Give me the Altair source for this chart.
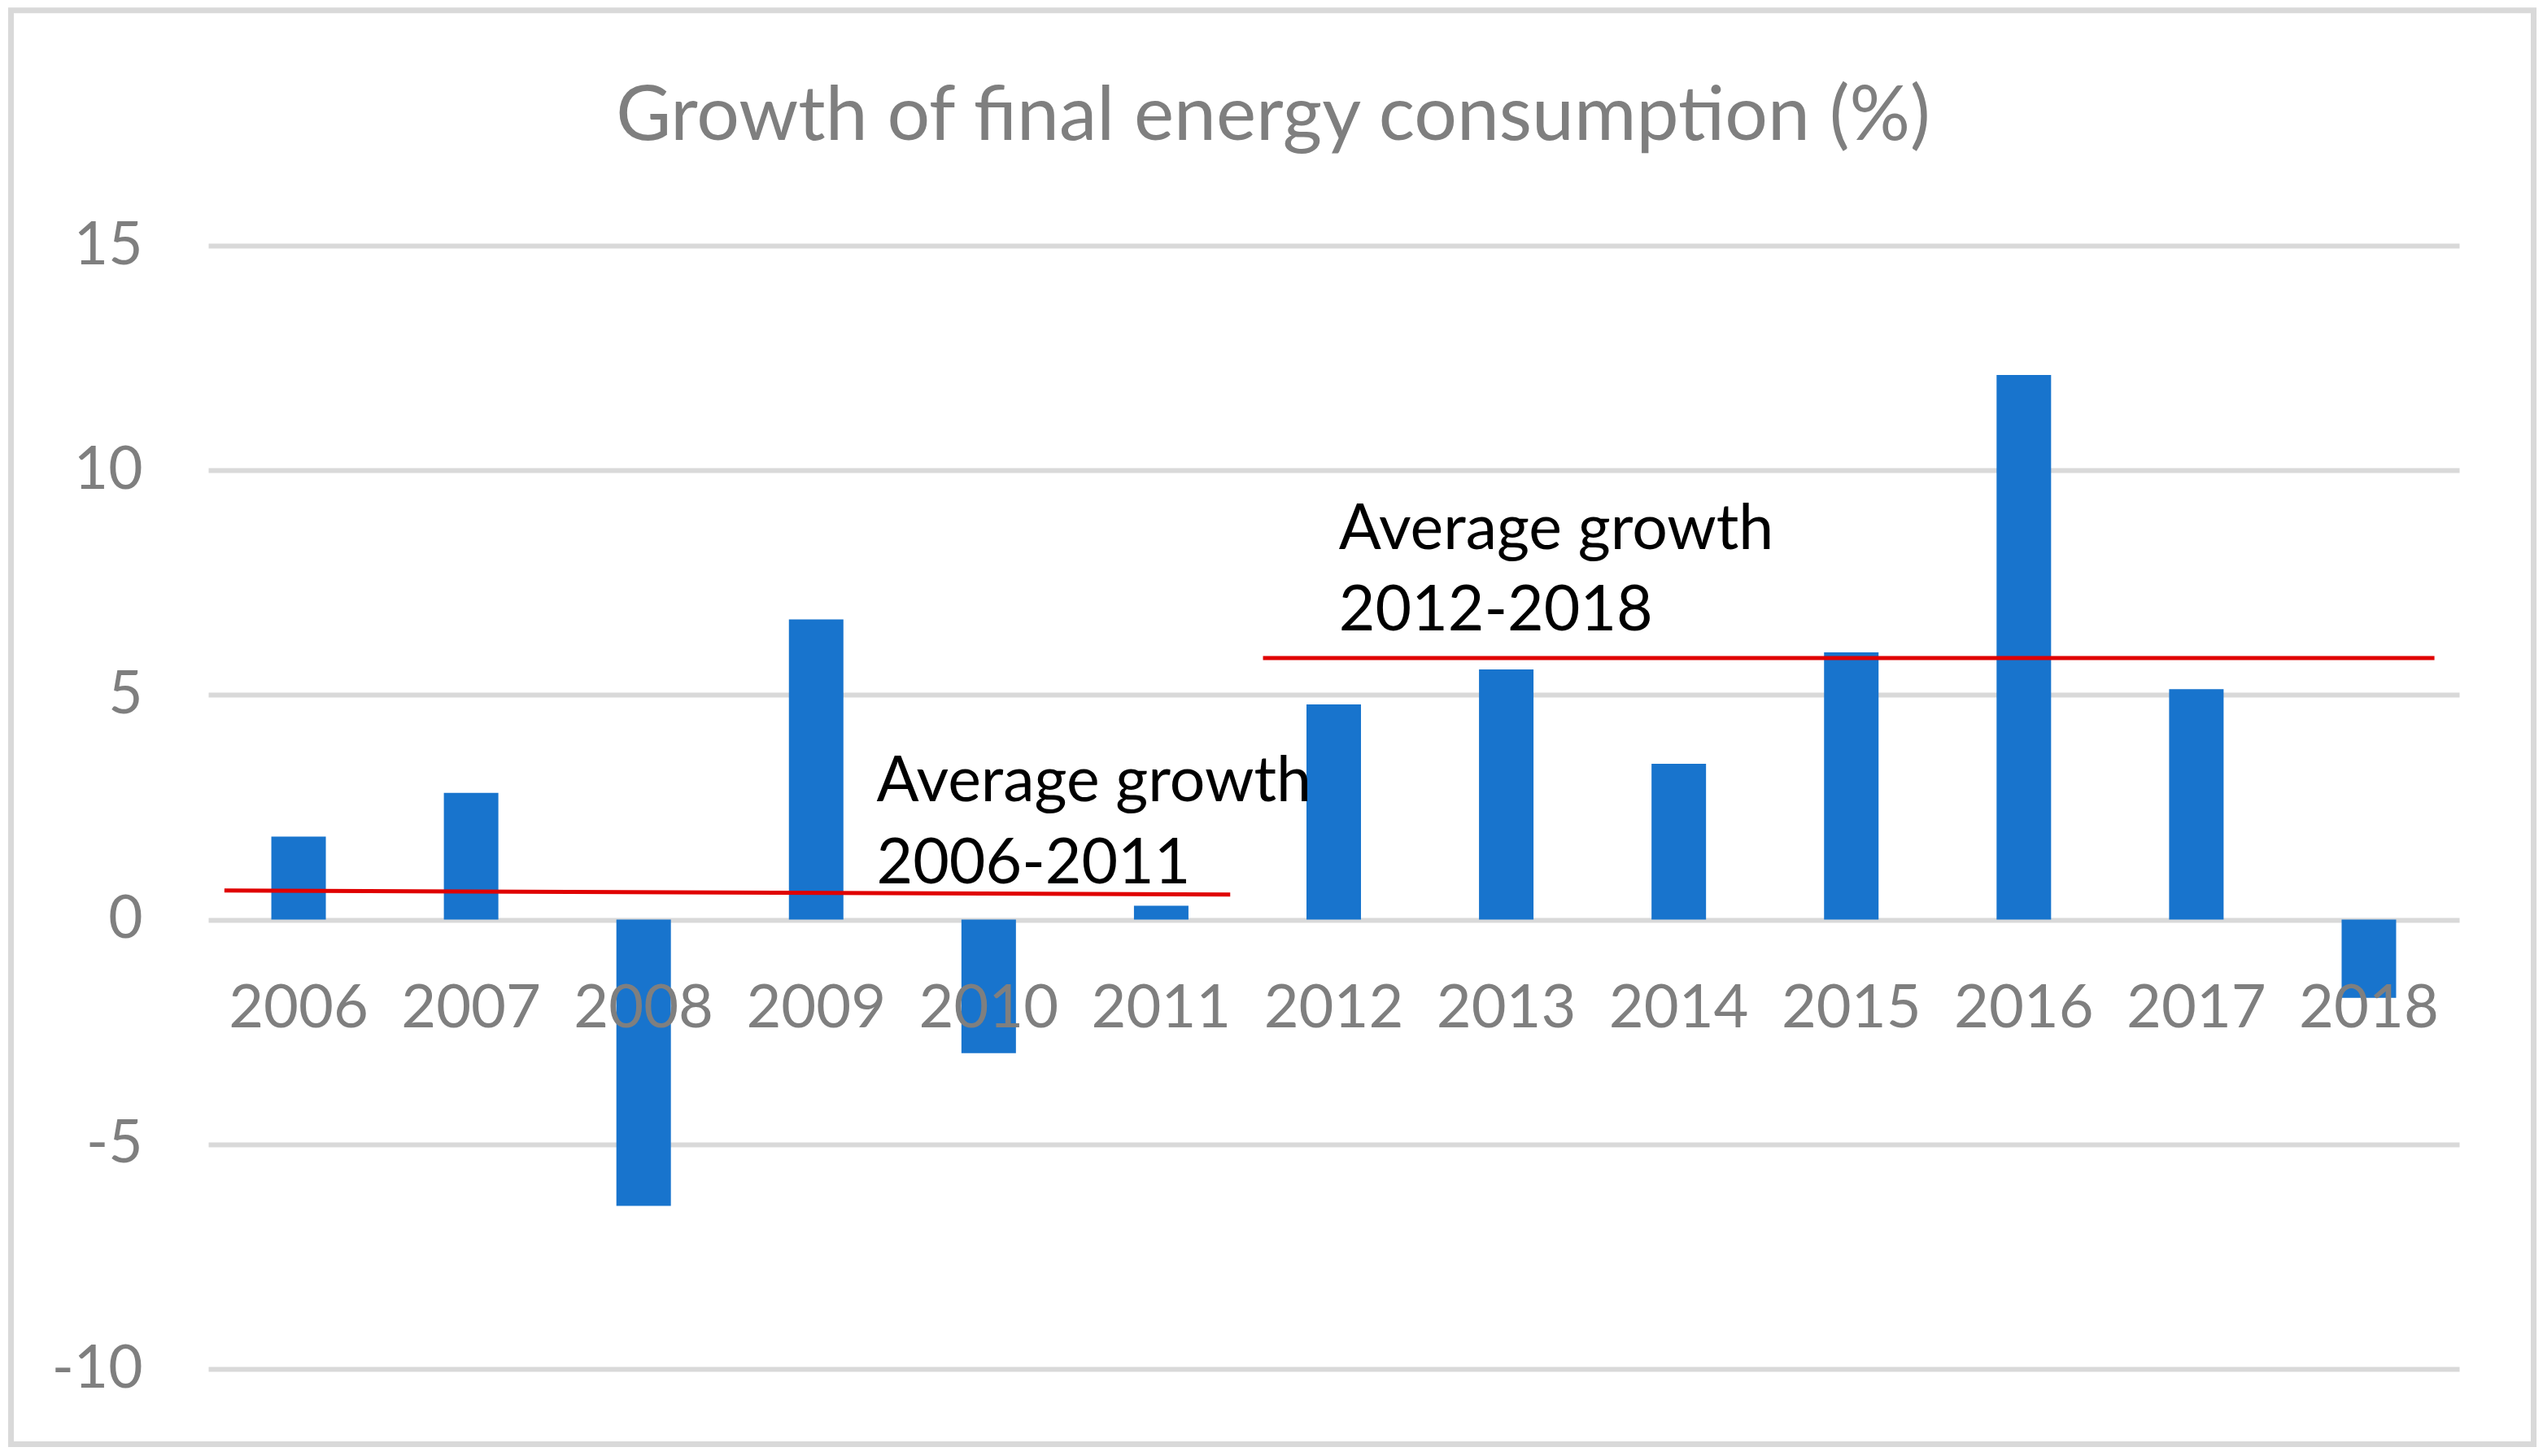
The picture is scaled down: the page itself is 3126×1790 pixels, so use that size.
import altair as alt
import pandas as pd

# ---- data ----
years = [2006, 2007, 2008, 2009, 2010, 2011, 2012, 2013, 2014, 2015, 2016, 2017, 2018]
growth = [1.85, 2.82, -6.37, 6.68, -2.97, 0.31, 4.79, 5.57, 3.47, 5.95, 12.12, 5.13, -1.74]
y_ticks = [-10, -5, 0, 5, 10, 15]

avg_period = ["2006-2011", "2006-2011", "2012-2018", "2012-2018"]
avg_x = [2005.57, 2011.40, 2011.59, 2018.38]
avg_y = [0.65, 0.56, 5.82, 5.82]

note_text = ["Average growth", "2006-2011", "Average growth", "2012-2018"]
note_x = [2009.35, 2009.35, 2012.03, 2012.03]
note_y = [2.64, 0.81, 8.25, 6.44]

title_text = "Growth of final energy consumption (%)"

bars_df = pd.DataFrame({"year": years, "growth": growth})
avg_df = pd.DataFrame({"period": avg_period, "x": avg_x, "y": avg_y})
note_df = pd.DataFrame({"text": note_text, "x": note_x, "y": note_y})

FONT = "Lato"
GREY = "#7F7F7F"
W, H = 2767, 1381

xscale = alt.Scale(domain=[2005.5, 2018.5], nice=False, zero=False)
yscale = alt.Scale(domain=[-10, 15], nice=False)

base = alt.Chart(bars_df)

bars = base.mark_bar(size=67, color="#1874CD").encode(
    x=alt.X("year:Q", scale=xscale, axis=None),
    y=alt.Y(
        "growth:Q",
        scale=yscale,
        axis=alt.Axis(
            values=y_ticks,
            title=None,
            grid=True,
            gridColor="#D9D9D9",
            gridWidth=6,
            domain=False,
            ticks=False,
            labelFont=FONT,
            labelFontSize=73,
            labelColor=GREY,
            labelPadding=81,
            labelExpr="'' + datum.value",
        ),
    ),
)

xlabels = base.mark_text(
    font=FONT, fontSize=74, color=GREY, baseline="alphabetic", align="center", dy=132
).encode(
    x=alt.X("year:Q", scale=xscale),
    y=alt.datum(0),
    text=alt.Text("year:Q", format="d"),
)

avg_lines = alt.Chart(avg_df).mark_line(color="#E00000", strokeWidth=5).encode(
    x=alt.X("x:Q", scale=xscale),
    y=alt.Y("y:Q", scale=yscale),
    detail="period:N",
)

notes = alt.Chart(note_df).mark_text(
    font=FONT, fontSize=77, color="#000000", align="left", baseline="alphabetic"
).encode(
    x=alt.X("x:Q", scale=xscale),
    y=alt.Y("y:Q", scale=yscale),
    text="text:N",
)

title = alt.Chart(pd.DataFrame({"t": [title_text]})).mark_text(
    font=FONT, fontSize=93, color=GREY, align="center", baseline="alphabetic"
).encode(
    x=alt.value(1565 - 256),
    y=alt.value(172 - 302),
    text="t:N",
)

border = alt.Chart(pd.DataFrame({"b": [1]})).mark_rect(
    filled=False, stroke="#D9D9D9", strokeWidth=7
).encode(
    x=alt.value(13.5 - 256),
    x2=alt.value(3114.5 - 256),
    y=alt.value(12.7 - 302),
    y2=alt.value(1775.5 - 302),
)

chart = (
    alt.layer(border, bars, avg_lines, notes, xlabels, title)
    .properties(
        width=W,
        height=H,
        autosize=alt.AutoSizeParams(type="none"),
        padding={"left": 248, "top": 294, "right": 95, "bottom": 96},
        background="white",
    )
    .configure_view(stroke=None)
)

chart.save("out.html", embed_options={"renderer": "svg", "actions": False})
